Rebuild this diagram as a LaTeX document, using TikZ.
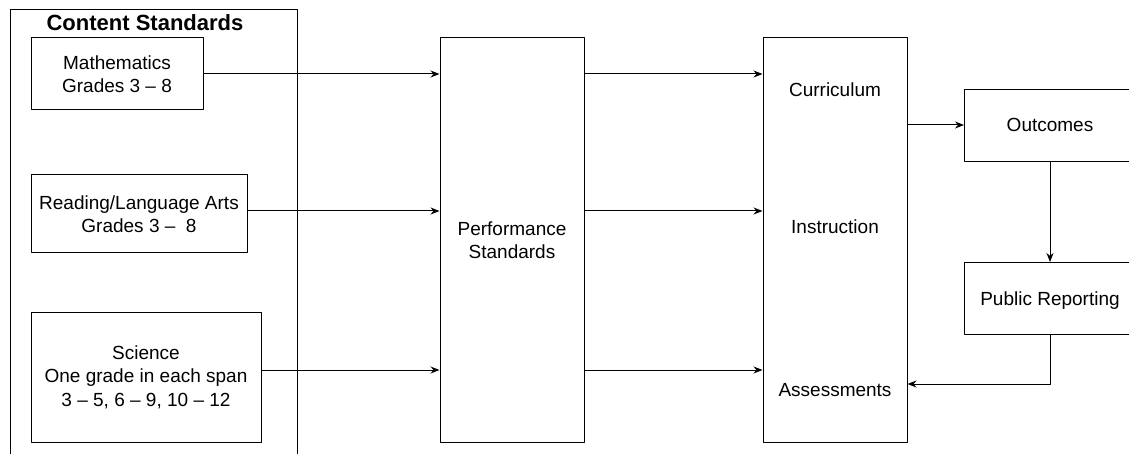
\documentclass[tikz,border=0pt]{standalone}
\usepackage{fontspec}
\setmainfont{Liberation Sans}
\usetikzlibrary{arrows.meta}
\begin{document}
\begin{tikzpicture}[x=1pt,y=-1pt,>={Stealth[length=9pt,width=7pt]}, line width=1pt, line join=round,
		font=\fontsize{19}{23.5}\selectfont]
			\tikzset{box/.style={draw, rectangle, inner sep=0pt, align=center},
				label style/.style={align=center, inner sep=0pt}}
			\useasboundingbox (0,0) rectangle (1129,454);
			\node[box, minimum width=287, minimum height=470, anchor=north west] (content) at (9.5,9.5) {};
			\node[font=\fontsize{22}{26}\selectfont\bfseries, inner sep=0pt] (title) at (145,23) {Content Standards};
			\node[box, minimum width=172, minimum height=72] (math) at (117,74) {Mathematics\\Grades 3 -- 8};
			\node[box, minimum width=216, minimum height=78] (reading) at (139,214) {Reading/Language Arts\\Grades 3 --\ \ 8};
			\node[box, minimum width=230, minimum height=130] (science) at (146,377) {Science\\One grade in each span\\3 -- 5, 6 -- 9, 10 -- 12};
			\node[box, minimum width=144, minimum height=404] (perf) at (512,240) {Performance\\Standards};
			\node[box, minimum width=144, minimum height=404] (cia) at (835,240) {};
			\node[label style] (curr) at (835,90) {Curriculum};
			\node[label style] (instr) at (835,227) {Instruction};
			\node[label style] (assess) at (835,390) {Assessments};
			\node[box, minimum width=172, minimum height=72, anchor=north west] (outcomes) at (964,89) {};
			\node[label style] (outtext) at (1050,125) {Outcomes};
			\node[box, minimum width=172, minimum height=72, anchor=north west] (reporting) at (964,262) {};
			\node[label style] (reptext) at (1050,301) {Public Reporting};
			\draw[->] (math.east |- 0,74) -- (perf.west |- 0,74);
			\draw[->] (reading.east |- 0,211) -- (perf.west |- 0,211);
			\draw[->] (science.east |- 0,370) -- (perf.west |- 0,370);
			\foreach \y in {74,211,370}
			\draw[->] (perf.east |- 0,\y) -- (cia.west |- 0,\y);
			\draw[->] (cia.east |- 0,125) -- (outcomes.west |- 0,125);
			\draw[->] (outcomes.south -| 1050,0) -- (reporting.north -| 1050,0);
			\draw[->] (reporting.south -| 1050,0) |- (cia.east |- 0,384);
	\end{tikzpicture}
\end{document}
